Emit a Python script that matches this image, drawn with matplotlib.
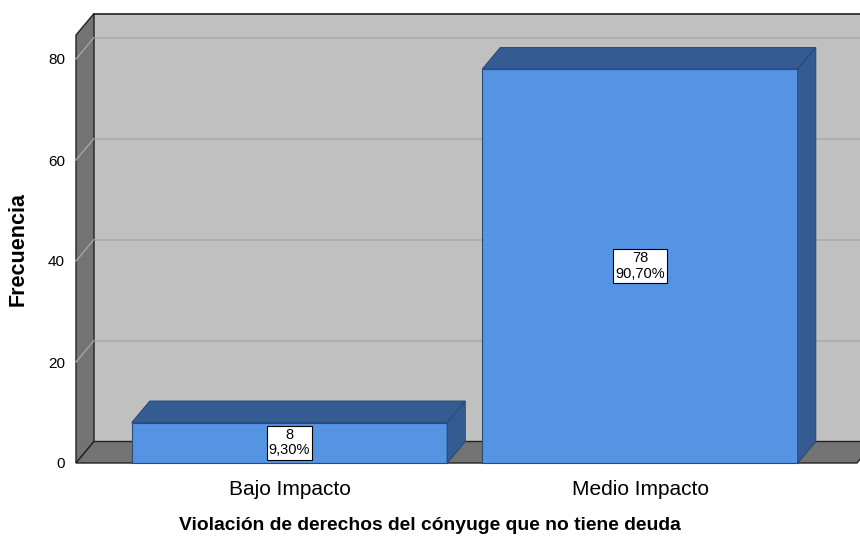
import matplotlib.pyplot as plt
from matplotlib.patches import Polygon

plt.rcParams['font.family'] = ['Liberation Sans', 'DejaVu Sans']

categories = ["Bajo Impacto", "Medio Impacto"]
counts = [8, 78]
percents = [9.30, 90.70]
yticks = [0, 20, 40, 60, 80]

front_col = "#5494E3"
dark_col = "#345C92"
edge_col = "#2B4A74"
wall_col = "#737373"
back_col = "#C0C0C0"

W, H = 860, 539
fig = plt.figure(figsize=(W / 100, H / 100), dpi=100)
# axes = front plane, left edge at x=76px, bottom at y=463px
ax = fig.add_axes([76 / W, (H - 463) / H, (W - 76) / W, (463 - 14) / H])
px_per_cat = 350.5
px_per_unit = 5.05
xmin = -213.5 / px_per_cat
xmax = (W - 76) / px_per_cat + xmin
ax.set_xlim(xmin, xmax)
ax.set_ylim(0, (463 - 14) / px_per_unit)
DX = 18 / px_per_cat
DY = 21.5 / px_per_unit
ytop = (463 - 35) / px_per_unit
xright = (857 - 289.5) / px_per_cat

def poly(pts, fc, ec="none", lw=0.8, z=1):
    ax.add_patch(Polygon(pts, closed=True, facecolor=fc, edgecolor=ec,
                         linewidth=lw, zorder=z, clip_on=False))

# back wall
poly([(xmin + DX, DY), (xright + DX, DY), (xright + DX, ytop + DY),
      (xmin + DX, ytop + DY)], back_col, z=0)
ax.plot([xmin + DX, xright + DX], [ytop + DY, ytop + DY], color="#222222",
        lw=1.2, zorder=1, clip_on=False)
# left wall
poly([(xmin, 0), (xmin + DX, DY), (xmin + DX, ytop + DY), (xmin, ytop)],
     wall_col, ec="#222222", lw=1.0, z=1)
# floor
poly([(xmin, 0), (xright, 0), (xright + DX, DY), (xmin + DX, DY)],
     wall_col, ec="#222222", lw=1.0, z=1)

# grid lines
for v in yticks[1:]:
    ax.plot([xmin + DX, xright + DX], [v + DY, v + DY], color="#ABABAB",
            lw=1.2, zorder=0.5, clip_on=False)
    ax.plot([xmin, xmin + DX], [v, v + DY], color="#A5A5A5", lw=1.0,
            zorder=1.5, clip_on=False)

# bars
bw = 0.9
for i, (n, p) in enumerate(zip(counts, percents)):
    l, r = i - bw / 2, i + bw / 2
    poly([(l, 0), (r, 0), (r, n), (l, n)], front_col, edge_col, z=3)
    poly([(l, n), (r, n), (r + DX, n + DY), (l + DX, n + DY)], dark_col, edge_col, z=3)
    poly([(r, 0), (r + DX, DY), (r + DX, n + DY), (r, n)], dark_col, edge_col, z=3)
    lbl = f"{n}\n{p:.2f}%".replace(".", ",")
    ax.text(i, n / 2, lbl, ha="center", va="center", fontsize=10.5,
            linespacing=1.1, zorder=5,
            bbox=dict(boxstyle="square,pad=0.15", fc="white", ec="black", lw=0.8))

for s in ax.spines.values():
    s.set_visible(False)
ax.patch.set_visible(False)
ax.set_yticks(yticks)
ax.set_yticklabels([str(t) for t in yticks], fontsize=11)
ax.set_xticks(range(len(categories)))
ax.set_xticklabels(categories, fontsize=15)
ax.tick_params(axis="y", length=0, pad=8)
ax.tick_params(axis="x", length=0, pad=12)

fig.text(18 / W, 1 - 249 / H, "Frecuencia", rotation=90, ha="center",
         va="center", fontsize=15.5, fontweight="bold")
fig.text(430 / W, 1 - 525 / H, "Violación de derechos del cónyuge que no tiene deuda",
         ha="center", va="center", fontsize=13.9, fontweight="bold")

fig.savefig("out.png", dpi=100)
